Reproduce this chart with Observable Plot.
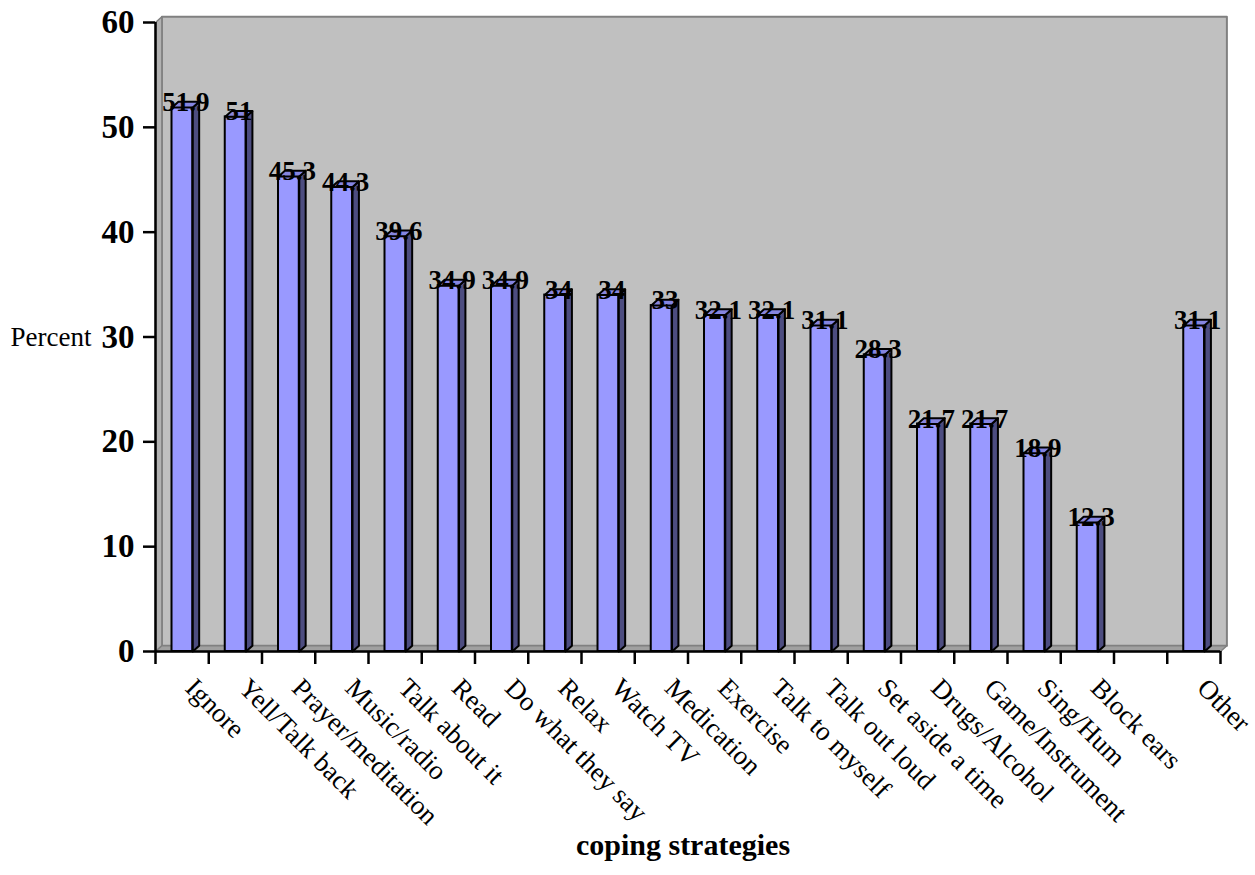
<!DOCTYPE html>
<html>
<head>
<meta charset="utf-8">
<script src="https://cdn.jsdelivr.net/npm/d3@7"></script>
<script src="https://cdn.jsdelivr.net/npm/@observablehq/plot@0.6"></script>
<style>
  html, body { margin: 0; padding: 0; background: #ffffff; }
  #chart svg { display: block; }
</style>
</head>
<body>
<div id="chart"></div>
<script>
// Coping strategies used, percent of respondents (one empty slot before "Other")
const categories = [
  "Ignore", "Yell/Talk back", "Prayer/meditation", "Music/radio", "Talk about it",
  "Read", "Do what they say", "Relax", "Watch TV", "Medication", "Exercise",
  "Talk to myself", "Talk out loud", "Set aside a time", "Drugs/Alcohol",
  "Game/Instrument", "Sing/Hum", "Block ears", "", "Other"
];
const values = [
  51.9, 51, 45.3, 44.3, 39.6, 34.9, 34.9, 34, 34, 33, 32.1, 32.1, 31.1, 28.3,
  21.7, 21.7, 18.9, 12.3, null, 31.1
];
const yTicks = [0, 10, 20, 30, 40, 50, 60];

// 3-D look: depth of bars and walls in data units, front face within each slot
const DX = 0.12, DY = 0.55;
const FRONT_L = 0.31, FRONT_R = 0.70;
const nSlots = categories.length;
const yMax = 60;

const slots = categories.map((c, i) => ({i, c, v: values[i]}));
const bars = slots.filter(d => d.v != null);

// polygons of the chart box (back wall, left wall, floor)
const backWall = [
  {id: "back", x: DX, y: DY}, {id: "back", x: nSlots + DX, y: DY},
  {id: "back", x: nSlots + DX, y: yMax + DY}, {id: "back", x: DX, y: yMax + DY}
];
const sideWall = [
  {id: "side", x: 0, y: 0}, {id: "side", x: DX, y: DY},
  {id: "side", x: DX, y: yMax + DY}, {id: "side", x: 0, y: yMax}
];
const floor = [
  {id: "floor", x: 0, y: 0}, {id: "floor", x: nSlots, y: 0},
  {id: "floor", x: nSlots + DX, y: DY}, {id: "floor", x: DX, y: DY}
];

// side and top faces of every bar
const sideFaces = bars.flatMap(d => {
  const x2 = d.i + FRONT_R;
  return [
    {id: d.i, x: x2, y: 0}, {id: d.i, x: x2, y: d.v},
    {id: d.i, x: x2 + DX, y: d.v + DY}, {id: d.i, x: x2 + DX, y: DY}
  ];
});
const topFaces = bars.flatMap(d => {
  const x1 = d.i + FRONT_L, x2 = d.i + FRONT_R;
  return [
    {id: d.i, x: x1, y: d.v}, {id: d.i, x: x2, y: d.v},
    {id: d.i, x: x2 + DX, y: d.v + DY}, {id: d.i, x: x1 + DX, y: d.v + DY}
  ];
});

const poly = (data, fill, stroke, strokeWidth) =>
  Plot.line(data, {x: "x", y: "y", z: "id", curve: "linear-closed", fill, stroke, strokeWidth});

const chart = Plot.plot({
  width: 1255,
  height: 875,
  marginLeft: 155,
  marginRight: 35,
  marginTop: 22,
  marginBottom: 224,
  style: {fontFamily: "'Liberation Serif', 'Times New Roman', serif", background: "#ffffff", color: "#000000"},
  x: {type: "linear", domain: [0, nSlots], axis: null},
  y: {domain: [0, yMax], axis: null},
  marks: [
    poly(backWall, "#c0c0c0", "#808080", 2),
    poly(sideWall, "#b2b2b2", "#808080", 1.5),
    poly(floor, "#a0a0a0", "#808080", 1.5),
    Plot.rect(bars, {
      x1: d => d.i + FRONT_L, x2: d => d.i + FRONT_R, y1: 0, y2: "v",
      fill: "#9999ff", stroke: "#000000", strokeWidth: 2
    }),
    poly(sideFaces, "#4d4d80", "#000000", 2),
    poly(topFaces, "#8585e0", "#000000", 2),
    // value labels on top of each bar
    Plot.text(bars, {
      x: d => d.i + 0.57, y: "v", text: d => String(d.v), dy: -5,
      fontSize: 27, fontWeight: "bold", fill: "#000000"
    }),
    // axes
    Plot.ruleX([0], {y1: 0, y2: yMax, stroke: "#000000", strokeWidth: 2.5}),
    Plot.ruleY([0], {x1: 0, x2: nSlots, stroke: "#000000", strokeWidth: 2.5}),
    Plot.axisY({ticks: yTicks, tickSize: 12, tickFormat: () => "", label: null, strokeWidth: 2.5}),
    Plot.axisX({ticks: d3.range(nSlots + 1), tickSize: 13, tickFormat: () => "", label: null, strokeWidth: 2.5}),
    Plot.text(yTicks, {
      x: 0, y: d => d, text: d => String(d), dx: -21, textAnchor: "end",
      fontSize: 33, fontWeight: "bold"
    }),
    // category labels, slanted
    Plot.text(slots.filter(d => d.c !== ""), {
      x: d => d.i + 0.5, y: 0, text: "c", rotate: 45, textAnchor: "start",
      dx: 8, dy: 32, fontSize: 27
    }),
    Plot.text(["Percent"], {frameAnchor: "left", dx: -145, textAnchor: "start", fontSize: 27}),
    Plot.text(["coping strategies"], {frameAnchor: "bottom", dx: -5, dy: 203, fontSize: 30, fontWeight: "bold"})
  ]
});

document.getElementById("chart").appendChild(chart);
</script>
</body>
</html>
